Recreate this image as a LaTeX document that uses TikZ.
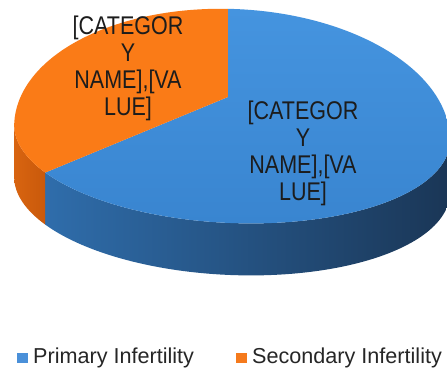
\documentclass[tikz,border=0pt]{standalone}
\usepackage{fontspec}
\setmainfont{Liberation Sans}
\usepackage{graphicx}
\definecolor{bluetopA}{HTML}{4594DF}
\definecolor{bluetopB}{HTML}{3985D0}
\definecolor{bluesideA}{HTML}{2F6DAB}
\definecolor{bluesideB}{HTML}{1A3656}
\definecolor{orangetop}{HTML}{FA7B17}
\definecolor{orangesideA}{HTML}{D86410}
\definecolor{orangesideB}{HTML}{C9590B}
\definecolor{labeltext}{HTML}{1C1C1C}
\definecolor{legendtext}{HTML}{262626}
\definecolor{bluekey}{HTML}{4A90D9}
\definecolor{orangekey}{HTML}{F57A1C}
\newcommand\squeezetext[1]{\scalebox{0.84}[1]{#1}}
\begin{document}
\begin{tikzpicture}[x=1pt,y=-1pt,
  lbl/.style={font=\fontsize{25.6}{26.7}\selectfont, text=labeltext, align=center, inner sep=0pt},
  legtext/.style={font=\fontsize{21.6}{24}\selectfont, text=legendtext, anchor=base west, inner sep=0pt},
  legkey/.style={minimum size=10.5pt, inner sep=0pt, draw=none}]
\useasboundingbox (0,0) rectangle (447,370);
\fill[white] (0,0) rectangle (447,370);
\begin{scope}[shift={(232,133)}, rotate=-2.5]
  \coordinate (C) at (-5.6,-35.8);
  % side walls
  \path[left color=bluesideA, right color=bluesideB]
    plot[domain=148:0,samples=80] ({218*cos(\x)},{90*sin(\x)})
    -- plot[domain=0:148,samples=80] ({218*cos(\x)+2.27},{90*sin(\x)+51.95}) -- cycle;
  \path[left color=orangesideA, right color=orangesideB]
    plot[domain=180:148,samples=30] ({218*cos(\x)},{90*sin(\x)})
    -- plot[domain=148:180,samples=30] ({218*cos(\x)+2.27},{90*sin(\x)+51.95}) -- cycle;
  % top faces
  \path[top color=bluetopA, bottom color=bluetopB]
    (C) -- plot[domain=148:0,samples=80] ({218*cos(\x)},{90*sin(\x)})
    -- plot[domain=0:92.5,samples=60] ({218*cos(\x)},{-124*sin(\x)}) -- cycle;
  \fill[orangetop]
    (C) -- plot[domain=92.5:180,samples=60] ({218*cos(\x)},{-124*sin(\x)})
    -- plot[domain=180:148,samples=30] ({218*cos(\x)},{90*sin(\x)}) -- cycle;
\end{scope}
\node[lbl, anchor=base] (lblO) at (128,115) {\squeezetext{[CATEGOR}\\\squeezetext{Y}\\\squeezetext{NAME],[VA}\\\squeezetext{LUE]}};
\node[lbl, anchor=base] (lblB) at (303,200) {\squeezetext{[CATEGOR}\\\squeezetext{Y}\\\squeezetext{NAME],[VA}\\\squeezetext{LUE]}};
\node[legkey, fill=bluekey] (keyP) at (22.5,358) {};
\node[legtext] (txtP) at (33,363) {Primary Infertility};
\node[legkey, fill=orangekey] (keyS) at (241.5,358) {};
\node[legtext] (txtS) at (252,363) {Secondary Infertility};
\end{tikzpicture}
\end{document}
